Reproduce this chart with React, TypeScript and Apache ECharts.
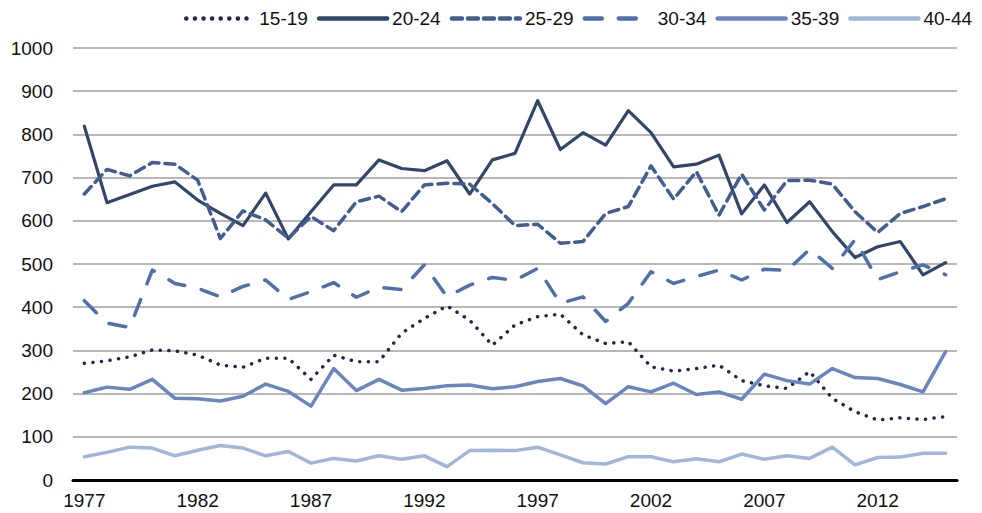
import React, { useEffect, useRef } from "react";
import * as echarts from "echarts";

const years: string[] = [];
for (let y = 1977; y <= 2015; y++) years.push(String(y));

const s15_19 = [270, 276, 285, 301, 299, 289, 266, 261, 282, 282, 233, 289, 274, 274, 340, 374, 403, 370, 312, 359, 378, 384, 336, 316, 320, 262, 252, 258, 266, 230, 218, 212, 251, 189, 158, 139, 144, 140, 147];
const s20_24 = [819, 642, 661, 680, 690, 648, 617, 589, 664, 558, 621, 683, 683, 741, 721, 716, 739, 662, 741, 756, 878, 765, 804, 775, 855, 804, 725, 731, 752, 616, 683, 596, 644, 575, 515, 540, 552, 475, 503];
const s25_29 = [662, 719, 704, 735, 731, 694, 559, 623, 602, 560, 610, 577, 644, 657, 621, 683, 687, 685, 640, 589, 592, 548, 552, 617, 633, 727, 650, 714, 613, 708, 625, 693, 694, 685, 621, 573, 617, 633, 651];
const s30_34 = [415, 363, 353, 486, 455, 444, 424, 448, 463, 418, 436, 457, 423, 446, 441, 498, 424, 451, 469, 462, 490, 409, 424, 367, 409, 482, 455, 471, 486, 463, 488, 485, 534, 490, 556, 464, 482, 498, 475];
const s35_39 = [202, 215, 210, 233, 189, 188, 183, 194, 222, 205, 171, 258, 207, 233, 208, 212, 218, 220, 211, 216, 228, 235, 218, 177, 216, 204, 224, 198, 204, 187, 245, 230, 222, 258, 237, 235, 221, 204, 297];
const s40_44 = [54, 64, 76, 74, 56, 69, 80, 74, 56, 66, 39, 50, 44, 56, 48, 56, 31, 68, 69, 68, 76, 58, 40, 37, 54, 54, 42, 49, 42, 60, 48, 56, 50, 76, 35, 52, 53, 62, 62];

const seriesNames = ["15-19", "20-24", "25-29", "30-34", "35-39", "40-44"];
const seriesData = [s15_19, s20_24, s25_29, s30_34, s35_39, s40_44];
const colors = ["#21284d", "#32466a", "#425d92", "#4f70ab", "#6a86bf", "#a2b5db"];
const widths = [3.5, 3.2, 3.5, 3.5, 3.5, 3.5];
const dashes: any[] = [[0.1, 8.5], "solid", [10, 6], [17, 17], "solid", "solid"];

const FONT = "'Liberation Sans', Arial, sans-serif";

export default function App() {
  const ref = useRef<HTMLDivElement>(null);
  useEffect(() => {
    if (!ref.current) return;
    const chart = echarts.init(ref.current, null, { renderer: "svg" });
    chart.setOption({
      animation: false,
      textStyle: { fontFamily: FONT },
      legend: {
        left: 184,
        top: 9,
        width: 798,
        padding: 0,
        itemWidth: 68,
        itemHeight: 14,
        itemGap: 9,
        itemStyle: { opacity: 0 },
        lineStyle: { width: 4.5 },
        textStyle: { fontSize: 19, color: "#111", fontFamily: FONT },
        data: seriesNames,
      },
      grid: { left: 73, right: 25, top: 48, bottom: 33, containLabel: false },
      xAxis: {
        type: "category",
        data: years,
        boundaryGap: true,
        axisLine: { show: true, lineStyle: { color: "#000", width: 3 } },
        axisTick: { show: false },
        axisLabel: { interval: 4, fontSize: 19, color: "#111", margin: 11, fontFamily: FONT },
        splitLine: { show: false },
      },
      yAxis: {
        type: "value",
        min: 0,
        max: 1000,
        interval: 100,
        axisLine: { show: false },
        axisTick: { show: false },
        axisLabel: { fontSize: 19, color: "#111", margin: 20, fontFamily: FONT, formatter: (v: number) => String(v) },
        splitLine: { show: true, lineStyle: { color: "#a0a0a0", width: 1.5 } },
      },
      series: seriesNames.map((name, i) => ({
        name,
        type: "line",
        data: seriesData[i],
        symbol: "none",
        showSymbol: false,
        color: colors[i],
        lineStyle: { color: colors[i], width: widths[i], type: dashes[i], cap: "round", join: "round" },
        z: 2 + i,
      })),
    });
    return () => chart.dispose();
  }, []);
  return <div ref={ref} style={{ width: 982, height: 513, position: "absolute", left: 0, top: 0 }} />;
}
